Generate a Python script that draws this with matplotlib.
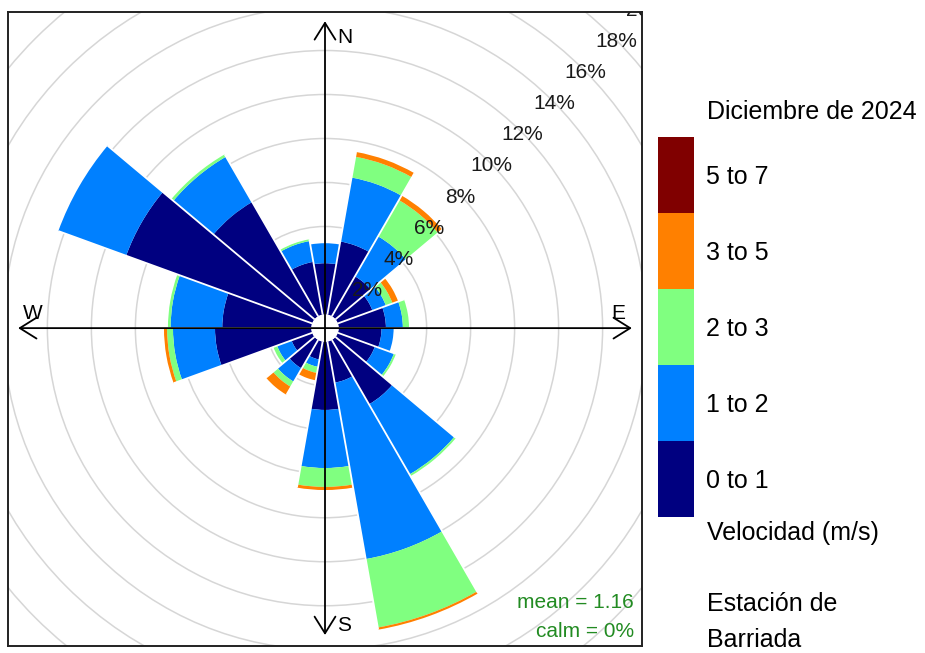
import numpy as np
import matplotlib
matplotlib.use('Agg')
import matplotlib.pyplot as plt
from matplotlib.patches import Wedge, Circle, FancyArrowPatch
from matplotlib.colors import ListedColormap, BoundaryNorm
from matplotlib.cm import ScalarMappable

plt.rcParams['font.family'] = ['Liberation Sans', 'DejaVu Sans']

# frequency (%) per direction and speed bin
directions = [0, 20, 40, 60, 80, 100, 120, 140, 160, 180, 200, 220, 240, 260, 280, 300, 320, 340]
ws_0_1 = [2.33, 3.38, 2.10, 1.68, 2.15, 1.95, 1.80, 3.38, 1.90, 3.10, 0.83, 1.50, 1.00, 4.38, 4.05, 9.00, 6.00, 2.44]
ws_1_2 = [0.91, 2.95, 2.10, 0.65, 0.77, 0.55, 0.92, 3.68, 8.14, 2.64, 0.34, 0.70, 0.70, 1.91, 2.35, 3.28, 2.38, 0.96]
ws_2_3 = [0.00, 0.96, 1.90, 0.32, 0.28, 0.00, 0.09, 0.09, 3.16, 0.86, 0.28, 0.27, 0.18, 0.27, 0.12, 0.00, 0.12, 0.08]
ws_3_5 = [0.00, 0.22, 0.24, 0.27, 0.00, 0.00, 0.00, 0.00, 0.10, 0.14, 0.34, 0.41, 0.00, 0.14, 0.00, 0.00, 0.00, 0.00]
ws_5_7 = [0.00] * 18

bin_labels = ['0 to 1', '1 to 2', '2 to 3', '3 to 5', '5 to 7']
bin_colors = ['#000080', '#0080FF', '#80FF80', '#FF8000', '#800000']
ring_values = [2, 4, 6, 8, 10, 12, 14, 16, 18, 20]
mean_ws = 1.16
calm_pct = 0

offset = 0.62
half = 10

fig = plt.figure(figsize=(9.25, 6.53), dpi=100)
ax = fig.add_axes([8 / 925, 7 / 653, 634 / 925, 634 / 653])
ax.set_xlim(-14.41, 14.41)
ax.set_ylim(-14.45, 14.37)
ax.set_aspect('equal', adjustable='box')
ax.set_xticks([])
ax.set_yticks([])
for s in ax.spines.values():
    s.set_linewidth(1.4)
    s.set_color('#222222')

# grid rings
for v in ring_values:
    ax.add_patch(Circle((0, 0), offset + v, fill=False, ec='#D6D6D6', lw=1.1, zorder=1))

bins = np.array([ws_0_1, ws_1_2, ws_2_3, ws_3_5, ws_5_7])
cum = np.cumsum(bins, axis=0)
totals = cum[-1]

for i, d in enumerate(directions):
    t1 = 90 - d - half
    t2 = 90 - d + half
    lower = 0
    for k in range(len(bin_labels)):
        if bins[k, i] <= 0:
            continue
        r_out = offset + cum[k, i]
        ax.add_patch(Wedge((0, 0), r_out, t1, t2, width=r_out - (offset + lower),
                           fc=bin_colors[k], ec='none', zorder=2))
        lower = cum[k, i]

# white separators between sectors
for i, d in enumerate(directions):
    r_max = offset + max(totals[i], totals[(i + 1) % len(directions)])
    a = np.deg2rad(90 - (d + half))
    ax.plot([offset * np.cos(a), r_max * np.cos(a)], [offset * np.sin(a), r_max * np.sin(a)],
            color='white', lw=1.3, zorder=3, solid_capstyle='butt')

ax.add_patch(Circle((0, 0), offset, fc='white', ec='none', zorder=4))

# compass arrows
tip = 13.95
for dx, dy in [(0, 1), (0, -1), (1, 0), (-1, 0)]:
    ax.add_patch(FancyArrowPatch((0, 0), (dx * tip, dy * tip),
                                 arrowstyle='->,head_length=1.2,head_width=0.75',
                                 mutation_scale=10, lw=1.3, color='black',
                                 shrinkA=0, shrinkB=0, zorder=5))

fs = 15
ax.text(0.55, 13.2, 'N', fontsize=fs, va='center', ha='left', zorder=6)
ax.text(0.55, -13.5, 'S', fontsize=fs, va='center', ha='left', zorder=6)
ax.text(-13.3, 0.65, 'W', fontsize=fs, va='center', ha='center', zorder=6)
ax.text(13.35, 0.65, 'E', fontsize=fs, va='center', ha='center', zorder=6)

# ring labels along the NE diagonal
ang = np.deg2rad(45)
for v in ring_values:
    r = offset + v - 0.05
    ax.text(r * np.cos(ang) + 0.1, r * np.sin(ang) - 0.1, '{}%'.format(v), fontsize=fs,
            ha='center', va='center', color='#1a1a1a', zorder=6, clip_on=True)

ax.text(14.05, -12.45, 'mean = {}'.format(mean_ws), fontsize=fs, color='forestgreen',
        ha='right', va='center', zorder=6)
ax.text(14.05, -13.8, 'calm = {}%'.format(calm_pct), fontsize=fs, color='forestgreen',
        ha='right', va='center', zorder=6)

# legend colour key
cax = fig.add_axes([658 / 925, 1 - 517 / 653, 36 / 925, 380 / 653])
cmap = ListedColormap(bin_colors)
norm = BoundaryNorm(np.arange(len(bin_labels) + 1), cmap.N)
cb = fig.colorbar(ScalarMappable(norm=norm, cmap=cmap), cax=cax)
cb.set_ticks(np.arange(len(bin_labels)) + 0.5)
cb.set_ticklabels(bin_labels)
cb.ax.minorticks_off()
cb.ax.tick_params(which='both', length=0, labelsize=18, pad=9)
cb.outline.set_visible(False)

lfs = 18
fig.text(707 / 925, 1 - 112 / 653, 'Diciembre de 2024', fontsize=lfs, va='center', ha='left')
fig.text(707 / 925, 1 - 533 / 653, 'Velocidad (m/s)', fontsize=lfs, va='center', ha='left')
fig.text(707 / 925, 1 - 604 / 653, 'Estación de', fontsize=lfs, va='center', ha='left')
fig.text(707 / 925, 1 - 640 / 653, 'Barriada', fontsize=lfs, va='center', ha='left')

fig.savefig('out.png', dpi=100)
